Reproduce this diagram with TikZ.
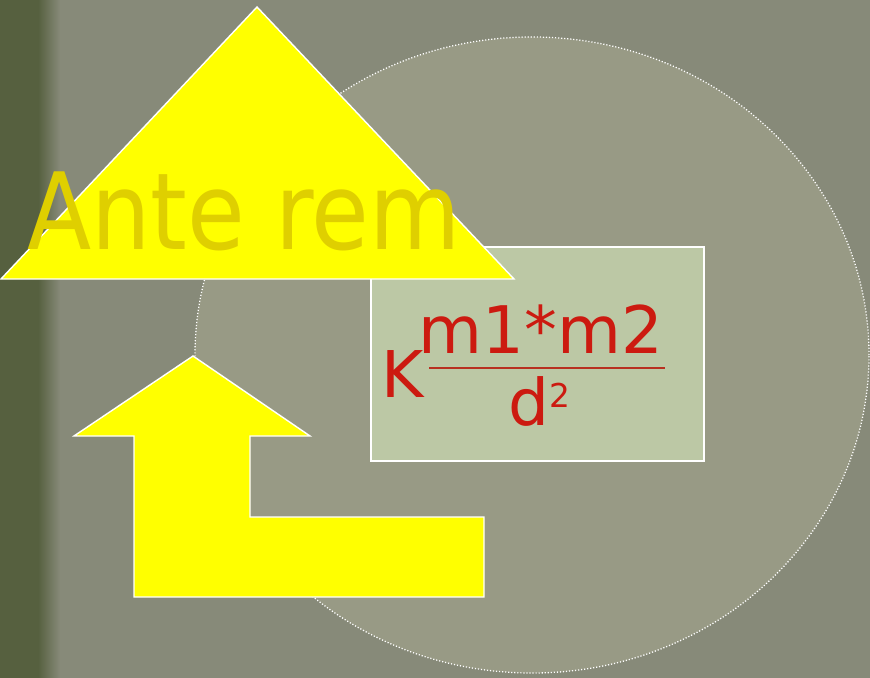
\documentclass[tikz,border=0pt]{standalone}
\usepackage{fontspec}
\setmainfont{DejaVu Sans}
\usepackage{tikz}
\usetikzlibrary{positioning,calc}
\definecolor{groundgrey}{HTML}{878A79}
\definecolor{stripgreen}{HTML}{56603F}
\definecolor{ringfill}{HTML}{989A85}
\definecolor{boxgreen}{HTML}{BCC8A5}
\definecolor{signyellow}{HTML}{FFFF00}
\definecolor{antegold}{HTML}{DFCF00}
\definecolor{formred}{HTML}{CC1A10}
\definecolor{barred}{HTML}{B83020}

\begin{document}
\begin{tikzpicture}[
    x=0.03cm, y=-0.03cm,
    title/.style={text=antegold, font=\fontsize{91}{91}\selectfont, inner sep=0pt, anchor=base west},
    formula/.style={text=formred, font=\fontsize{55}{55}\selectfont, inner sep=0pt},
    sign/.style={fill=signyellow, draw=white, line width=1.2pt, line join=miter},
    ring/.style={fill=ringfill, draw=white, line width=1.1pt, dash pattern=on 1pt off 1.6pt},
  ]
    \useasboundingbox (0,0) rectangle (870,678);
    % ground
    \fill[groundgrey] (0,0) rectangle (870,678);
    \fill[stripgreen] (0,0) rectangle (38,678);
    \shade[left color=stripgreen, right color=groundgrey] (38,0) rectangle (60,678);
    % ring and box
    \filldraw[ring] (532,355) ellipse [x radius=10.11cm, y radius=9.54cm];
    \filldraw[fill=boxgreen, draw=white, line width=1.2pt] (371,247) rectangle (704,461);
    % triangle and bent arrow
    \filldraw[sign] (257,7) -- (514,279) -- (1,279) -- cycle;
    \filldraw[sign] (193,356) -- (310,436) -- (250,436) -- (250,517) -- (484,517)
      -- (484,597) -- (134,597) -- (134,436) -- (74,436) -- cycle;
    % texts
    \node[title] (ante) at (27,249) {\scalebox{0.88}[1]{Ante rem}};
    \node[formula, anchor=base west] (k) at (381,397) {K};
    \node[formula, font=\fontsize{56}{56}\selectfont, anchor=base] (num) at (541,353) {m1*m2};
    \node[formula, anchor=base west] (den) at (508,425) {d};
    \node[formula, font=\fontsize{28}{28}\selectfont, anchor=base west] (sup) at ($(den.base east)+(0,-18)$) {2};
    \coordinate (barl) at (429,368);
    \coordinate (barr) at (665,368);
    \draw[barred, line width=1.6pt] (barl) -- (barr);
  \end{tikzpicture}
\end{document}
